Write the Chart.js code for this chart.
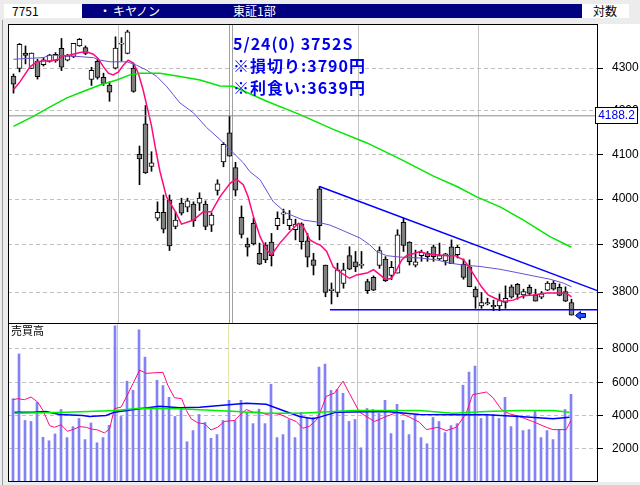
<!DOCTYPE html>
<html lang="ja">
<head>
<meta charset="utf-8">
<title>7751 キヤノン</title>
<script src="https://cdn.jsdelivr.net/npm/chart.js@4/dist/chart.umd.min.js"></script>
<style>
  body { margin:0; width:640px; height:485px; background:#ececec; position:relative; overflow:hidden;
         font-family:"Noto Sans CJK JP", sans-serif; font-size:12px; }
  .hdr { position:absolute; top:4px; height:14px; line-height:14px; }
  #code { left:4px; width:78px; background:#fff; }
  #name { left:82px; width:500px; background:#000080; color:#fff; }
  #scale { left:582px; width:47px; background:#fff; }
  .hdr span { position:absolute; }
  canvas { position:absolute; background:#fff; }
  #price { left:8px; top:24px; }
  #vol { left:8px; top:323px; }
  #edge { position:absolute; left:2px; top:20px; width:1px; height:465px; background:#9a9a9a; }
</style>
</head>
<body>
<div class="hdr" id="code"><span style="left:8px">7751</span></div>
<div class="hdr" id="name"><span style="left:17px">・</span><span style="left:31px">キヤノン</span><span style="left:151px">東証1部</span></div>
<div class="hdr" id="scale"><span style="left:11px">対数</span></div>
<div id="edge"></div>
<canvas id="price" width="632" height="300"></canvas>
<canvas id="vol" width="632" height="159"></canvas>
<script>
// daily candles, oldest first (last one is 5/24)
const candleOpen = [4281,4299,4336,4299,4317,4308,4316,4317,4347,4319,
  4328,4353,4349,4273,4316,4278,4260,4300,4357,4335,
  4300,4100,4170,4073,3958,3971,3998,3940,3991,3982,
  3989,3991,3989,3943,4019,4083,4149,4070,3960,3902,
  3947,3882,3900,3906,3942,3967,3942,3933,3946,3909,
  3868,4023,3857,3803,3799,3818,3877,3864,3856,3822,
  3831,3856,3870,3835,3840,3949,3906,3857,3877,3882,
  3896,3870,3866,3896,3879,3859,3853,3806,3771,3775,
  3772,3771,3778,3811,3816,3794,3810,3794,3789,3804,
  3819,3810,3801,3778];
const candleHigh = [4286,4359,4353,4336,4321,4325,4333,4337,4371,4333,
  4359,4371,4353,4302,4321,4288,4267,4375,4373,4391,
  4310,4119,4212,4106,3994,4009,4009,3972,4002,4002,
  3994,4014,3996,3970,4043,4127,4187,4082,3985,3915,
  3958,3904,3905,3925,3972,3978,3975,3956,3948,3925,
  3882,4028,3857,3819,3861,3861,3896,3886,3886,3827,
  3834,3896,3875,3865,3933,3958,3907,3889,3889,3886,
  3900,3904,3882,3911,3899,3870,3868,3811,3799,3787,
  3783,3796,3813,3815,3818,3806,3815,3806,3801,3822,
  3824,3817,3811,3785];
const candleLow = [4241,4291,4310,4299,4274,4305,4314,4314,4294,4317,
  4325,4352,4332,4259,4274,4259,4222,4298,4317,4334,
  4243,4032,4057,4062,3953,3926,3888,3935,3965,3972,
  3940,3975,3933,3929,4009,4072,4096,4007,3915,3876,
  3900,3858,3862,3855,3933,3946,3933,3911,3891,3853,
  3836,3911,3790,3775,3790,3808,3847,3843,3850,3797,
  3803,3850,3822,3826,3840,3886,3857,3853,3865,3865,
  3865,3868,3857,3860,3872,3827,3811,3766,3766,3773,
  3761,3761,3766,3787,3785,3787,3794,3781,3786,3803,
  3804,3792,3780,3752];
const candleClose = [4262,4357,4330,4336,4280,4320,4331,4333,4302,4329,
  4359,4369,4335,4295,4278,4264,4243,4348,4360,4387,
  4245,4090,4058,4081,3971,3934,3898,3954,3969,3996,
  3952,4002,3940,3965,4034,4123,4096,4020,3923,3895,
  3902,3859,3868,3877,3958,3970,3956,3945,3907,3874,
  3856,3942,3799,3806,3847,3847,3848,3853,3859,3803,
  3804,3888,3824,3852,3922,3899,3864,3864,3884,3875,
  3875,3877,3881,3860,3895,3831,3811,3789,3778,3778,
  3769,3782,3787,3789,3795,3801,3797,3781,3796,3819,
  3806,3793,3781,3752];
const volume = [5010,7700,3700,3640,4790,2690,2480,2890,4360,2670,
  3330,3820,2550,3550,2360,2670,3410,9390,3940,6060,
  5510,9150,7510,4360,6120,5800,5090,3940,4480,2420,
  3090,4060,3580,2630,2850,3700,4910,3700,4910,4160,
  3510,4380,3510,5880,2670,2850,3760,2670,4180,3880,
  3880,6910,7090,5510,5560,5330,3640,3760,2060,4420,
  4360,4120,4910,2910,4670,3700,2850,4060,2670,2300,
  3880,3640,2970,3390,3510,5820,6610,6970,3820,4060,
  4060,3820,5090,3330,4000,3090,3150,4240,2670,3090,
  2550,3150,4360,5270];

// moving averages (position in sessions, value)
const ma5Pos = [0,1.1,2.75,3.9,5,6.1,7.5,8.3,9.4,11.1,12.2,13.3,14.1,15,15.8,16.6,17.5,18.3,19.1,20,
  20.8,21.6,22.5,23,23.6,24.4,25.5,27,28,30,31.6,33,34.4,36.1,37.1,38.3,39.1,40,41.1,42.2,
  43,44.4,46.1,47.5,48.3,49.4,50.5,51.1,52.2,53.3,54.7,56,57.2,58.9,60,61.1,62,63,63.9,64.7,
  65.5,66.6,67.75,68.9,70.5,72.2,73.6,75,75.8,76.9,78,79.1,80.25,81.6,83.3,85,86.6,88.9,90.5,92.2,93];
const ma5Val = [4249,4268,4303,4315,4317,4317,4321,4329,4331,4337,4339,4333,4323,4303,4288,4284,4291,4307,4319,4312,
  4288,4249,4195,4165,4118,4062,4005,3972,3945,3954,3972,3972,4005,4035,4045,4032,4005,3961,3918,3889,
  3879,3904,3929,3947,3940,3911,3903,3900,3886,3853,3840,3829,3836,3840,3847,3836,3826,3829,3848,3868,
  3877,3881,3886,3881,3879,3877,3877,3868,3855,3833,3811,3794,3787,3780,3783,3792,3794,3798,3798,3797,3790];
const ma25Pos = [0,2.2,5,6.1,9.4,13.3,14.4,16.1,18.9,20.5,22.2,23.9,25.5,27.75,30,32.2,34.4,36.6,38.3,39.4,
  41.1,43.3,45.5,48.3,50.5,52.75,54.4,57.75,59.4,60.5,62.2,64.4,67.75,70.5,72.75,75,77.75,81.1,83.9,86.6,
  89.4,91.6,93];
const ma25Val = [4321,4323,4325,4331,4329,4325,4319,4315,4315,4307,4295,4280,4257,4218,4195,4161,4134,4104,4081,4061,
  4043,3994,3969,3954,3950,3943,3934,3915,3900,3886,3877,3874,3872,3868,3861,3857,3854,3848,3841,3834,
  3827,3819,3811];
const ma75Pos = [0,3.3,6.1,8.9,11.6,14.4,17.2,19.4,21.1,24.4,27.75,31.1,34.4,36.6,42.2,47.75,53.3,58.9,64.4,70,
  73.9,77.2,81.1,85,89.4,93];
const ma75Val = [4164,4187,4209,4230,4245,4260,4272,4284,4288,4288,4280,4272,4258,4257,4222,4191,4157,4126,4090,4051,
  4028,4005,3983,3954,3918,3895];

const vma5Pos = [0,0.8,1.9,3,4.1,5,6.1,6.9,8,9.1,10.25,11.1,12.2,13,14.1,15.25,16.1,16.9,18,18.9,
  20,21.1,22.2,23.3,25,25.8,26.9,28.1,28.9,29.7,30.8,31.9,33,34.1,35.25,36.9,37.75,38.9,40,41.1,
  42.2,43.3,44.7,46.1,47.2,48.3,49.4,50.5,51.1,52.2,53.6,55,56.1,57.75,60.25,62.2,64.1,66.1,67.75,68.9,
  70.8,72.2,73.9,75.5,76.6,78.9,80,81.4,82.75,84.4,86.6,88.9,90,92.2,93];
const vma5Val = [4950,5010,4950,5110,4810,4300,3390,3290,3440,3050,3190,3330,3290,3190,3130,2950,3190,4410,4500,5110,
  5920,6730,6530,6560,6590,5820,5070,5010,4300,3800,3560,3500,3130,3290,3640,3700,4000,4360,4200,4200,
  4060,4140,4040,3800,3640,3230,3350,3700,4100,5150,5350,6060,5310,4200,3640,3940,4200,3900,3590,3150,
  3290,3090,3290,4100,5250,5410,5070,4360,4100,3940,3640,3290,3150,3150,3700];
const vma25Pos = [0.25,3.3,5.5,7.75,11.6,12.75,15.5,16.9,21.1,24.4,27.75,31.1,35,38.9,42.2,45,47.75,50,51.1,53.9,
  62.2,67.75,73.3,78.9,84.4,90,92.75];
const vma25Val = [4200,4200,4240,4060,4000,3940,4000,4200,4410,4550,4470,4500,4610,4740,4670,4300,3940,3800,3900,4200,
  4240,4060,4040,4040,3940,3800,3900];
const vma75Pos = [0.25,8.9,17.2,21.1,27.75,31.1,36.6,42.2,47.75,51.1,56.6,67.75,73.3,78.9,84.4,90,92.75];
const vma75Val = [4140,4200,4300,4440,4410,4350,4260,4140,4140,4200,4300,4300,4140,4240,4300,4300,4200];

// drawn lines
const trendPos = [51, 97.3];
const trendVal = [4028, 3803];
const supportPos = [52.75, 97.3];
const supportVal = [3763, 3763];
const lastPrice = 4188.2;

const priceTicks = [3800, 3900, 4000, 4100, 4200, 4300];
const volTicks = [2000, 4000, 6000, 8000];
const monthLines = [17.5, 57.5, 77.5];
const noteLines = ['5/24(0) 3752S', '※損切り:3790円', '※利食い:3639円'];

const X_MIN = -0.9167, X_MAX = 97.417;
const pts = (xs, ys) => xs.map((x, k) => ({x: x, y: ys[k]}));
const days = candleOpen.map((_, i) => i);

Chart.defaults.font.family = '"Liberation Sans", sans-serif';
Chart.defaults.font.size = 12;
Chart.defaults.color = '#000';

const frame = {
  id: 'frame',
  afterDraw(chart) {
    const {ctx, chartArea: a} = chart;
    ctx.save();
    ctx.strokeStyle = '#000';
    ctx.lineWidth = 1;
    ctx.strokeRect(a.left + 0.5, a.top + 0.5, a.right - a.left - 1, a.bottom - a.top - 1);
    ctx.restore();
  }
};

const priceNotes = {
  id: 'priceNotes',
  afterDraw(chart) {
    const {ctx, chartArea: a, scales} = chart;
    ctx.save();
    // current price box on the axis
    const py = Math.round(scales.y.getPixelForValue(lastPrice));
    ctx.fillStyle = '#fff';
    ctx.fillRect(a.right - 3, py - 9, 43, 17);
    ctx.strokeStyle = '#000';
    ctx.lineWidth = 1;
    ctx.strokeRect(a.right - 2.5, py - 8.5, 42, 16);
    ctx.fillStyle = '#0000e0';
    ctx.font = '12px "Liberation Sans"';
    ctx.textAlign = 'center';
    ctx.textBaseline = 'middle';
    ctx.fillText(lastPrice.toFixed(1), a.right + 18.5, py);

    // memo
    ctx.font = 'bold 16px "Noto Sans CJK JP"';
    ctx.textAlign = 'left';
    ctx.fillStyle = '#0000f0';
    ctx.letterSpacing = '1px';
    noteLines.forEach((t, k) => ctx.fillText(t, a.left + 225, a.top + 20 + k * 22));
    ctx.letterSpacing = '0px';

    // arrow at the last candle
    const n = candleClose.length - 1;
    const ax = scales.x.getPixelForValue(n) + 4;
    const ay = Math.round(scales.y.getPixelForValue(candleClose[n])) + 0.5;
    ctx.beginPath();
    ctx.moveTo(ax, ay);
    ctx.lineTo(ax + 5, ay - 4);
    ctx.lineTo(ax + 5, ay - 2);
    ctx.lineTo(ax + 10, ay - 2);
    ctx.lineTo(ax + 10, ay + 2);
    ctx.lineTo(ax + 5, ay + 2);
    ctx.lineTo(ax + 5, ay + 4);
    ctx.closePath();
    ctx.fillStyle = '#1e50ff';
    ctx.fill();
    ctx.strokeStyle = '#000070';
    ctx.stroke();
    ctx.restore();
  }
};

const volLabel = {
  id: 'volLabel',
  afterDraw(chart) {
    const {ctx, chartArea: a} = chart;
    ctx.save();
    ctx.font = '11px "Noto Sans CJK JP"';
    ctx.fillStyle = '#000';
    ctx.textBaseline = 'top';
    ctx.fillText('売買高', a.left + 3, a.top + 2);
    ctx.restore();
  }
};

const lineDs = (data, color, width) => ({
  type: 'line', data: data, borderColor: color, borderWidth: width,
  pointRadius: 0, fill: false, tension: 0, order: 0
});

// right axis: fixed width and no extra padding above/below the plot
const fitRight = s => { s.width = 42; s.paddingTop = 0; s.paddingBottom = 0; };
const fitFlat = s => { s.height = 0; s.paddingLeft = 0; s.paddingRight = 0; };

new Chart(document.getElementById('price'), {
  type: 'bar',
  data: {
    datasets: [
      lineDs(pts([X_MIN, X_MAX], [lastPrice, lastPrice]), '#8c8c8c', 1),
      lineDs(pts(ma75Pos, ma75Val), '#00e800', 1.5),
      lineDs(pts(ma25Pos, ma25Val), '#6a50d0', 1),
      lineDs(pts(ma5Pos, ma5Val), '#ff0a7c', 1.5),
      lineDs(pts(trendPos, trendVal), '#0000ff', 1.5),
      lineDs(pts(supportPos, supportVal), '#0000ff', 1.5),
      {
        label: 'body',
        data: days.map(i => ({x: i, y: [candleOpen[i], candleClose[i]]})),
        backgroundColor: days.map(i => candleClose[i] >= candleOpen[i] ? '#ffffff' : '#808080'),
        borderColor: '#000',
        borderWidth: 1,
        borderSkipped: false,
        barThickness: 5,
        grouped: false,
        order: 5
      },
      {
        label: 'wick',
        data: days.map(i => ({x: i, y: [candleLow[i], candleHigh[i]]})),
        backgroundColor: '#000',
        borderWidth: 0,
        barThickness: 1,
        grouped: false,
        order: 6
      }
    ]
  },
  options: {
    responsive: false,
    animation: false,
    events: [],
    layout: {padding: 0, autoPadding: false},
    plugins: {legend: {display: false}, tooltip: {enabled: false}},
    scales: {
      x: {
        type: 'linear', min: X_MIN, max: X_MAX, offset: false,
        afterBuildTicks: s => { s.ticks = monthLines.concat([35.92, 36.42]).map(v => ({value: v})); },
        afterFit: fitFlat,
        ticks: {display: false},
        grid: {
          offset: false, drawTicks: false,
          color: c => (c.tick && c.tick.value > 35 && c.tick.value < 37) ? '#a0a0a0' : '#c4c4c4'
        },
        border: {display: false}
      },
      y: {
        type: 'logarithmic', position: 'right', min: 3733.5, max: 4406,
        afterBuildTicks: s => { s.ticks = priceTicks.map(v => ({value: v})); },
        afterFit: fitRight,
        ticks: {padding: 9, autoSkip: false, callback: v => String(v)},
        grid: {color: '#c0c0c0', tickColor: '#000', tickLength: 5, tickBorderDash: []},
        border: {display: false, dash: [4, 3]}
      }
    }
  },
  plugins: [frame, priceNotes]
});

new Chart(document.getElementById('vol'), {
  type: 'bar',
  data: {
    datasets: [
      lineDs(pts(vma75Pos, vma75Val), '#00f000', 1.5),
      lineDs(pts(vma25Pos, vma25Val), '#0000ff', 1.5),
      lineDs(pts(vma5Pos, vma5Val), '#ff0a7c', 1),
      {
        label: 'volume',
        data: days.map(i => ({x: i, y: volume[i]})),
        backgroundColor: '#8282f4',
        borderWidth: 0,
        barThickness: 2,
        grouped: false,
        order: 5
      }
    ]
  },
  options: {
    responsive: false,
    animation: false,
    events: [],
    layout: {padding: 0, autoPadding: false},
    plugins: {legend: {display: false}, tooltip: {enabled: false}},
    scales: {
      x: {
        type: 'linear', min: X_MIN + 0.0833, max: X_MAX + 0.0833, offset: false,
        afterBuildTicks: s => { s.ticks = [17.5, 36, 57.5, 77.5].map(v => ({value: v})); },
        afterFit: fitFlat,
        ticks: {display: false},
        grid: {
          offset: false, drawTicks: false,
          color: c => (c.tick && c.tick.value === 36) ? '#e6e6a8' : '#c4c4c4'
        },
        border: {display: false}
      },
      y: {
        type: 'linear', position: 'right', min: 0, max: 9560,
        afterBuildTicks: s => { s.ticks = volTicks.map(v => ({value: v})); },
        afterFit: fitRight,
        ticks: {padding: 9, autoSkip: false, callback: v => String(v)},
        grid: {color: '#c0c0c0', tickColor: '#000', tickLength: 5, tickBorderDash: []},
        border: {display: false, dash: [4, 3]}
      }
    }
  },
  plugins: [frame, volLabel]
});
</script>
</body>
</html>
